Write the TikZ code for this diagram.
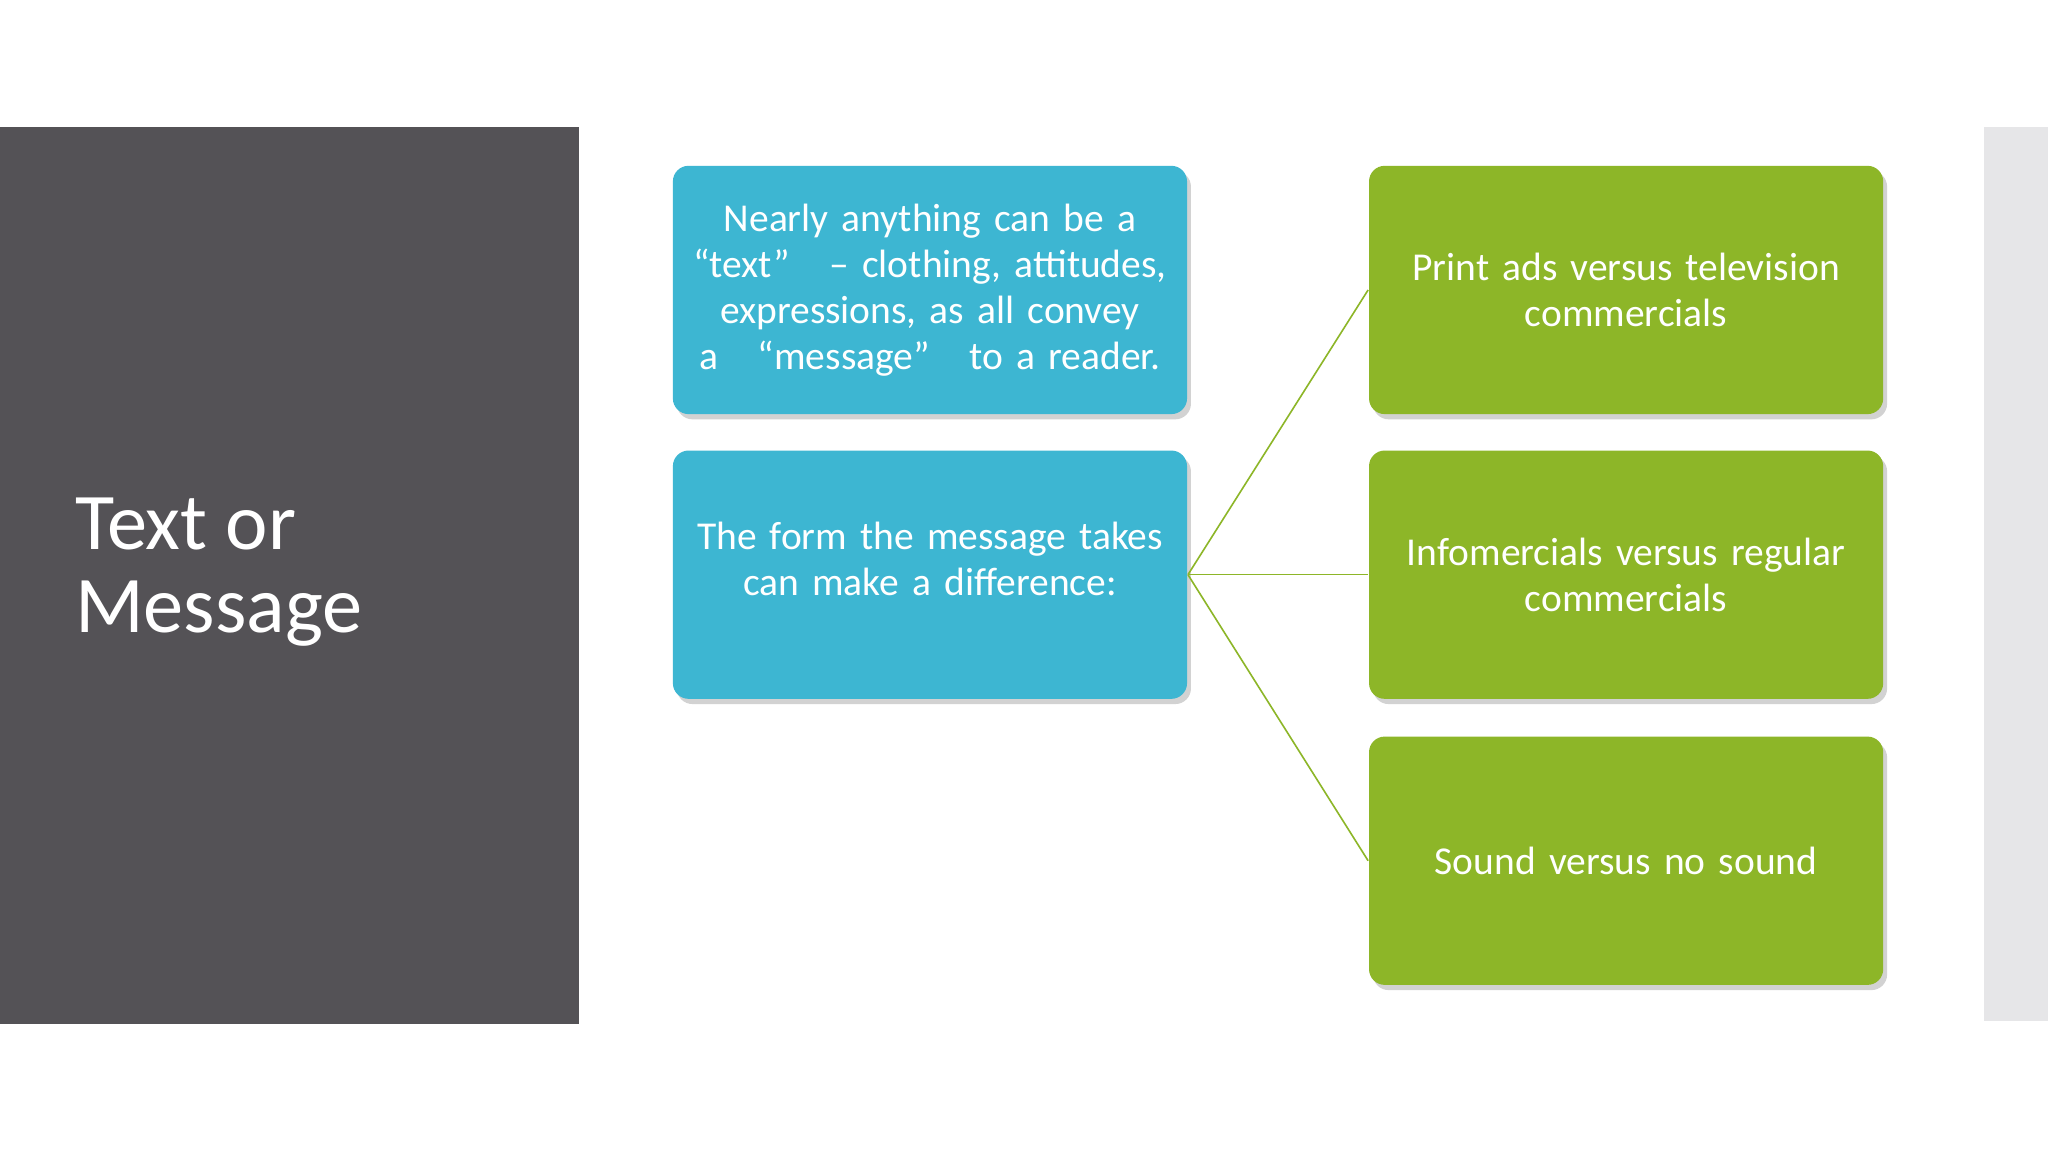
\documentclass[tikz,border=0pt]{standalone}
\usepackage{fontspec}
\setmainfont{Carlito}
\usetikzlibrary{shadows}
\definecolor{panel}{HTML}{545256}
\definecolor{strip}{HTML}{E6E6E8}
\definecolor{bbox}{HTML}{3DB6D2}
\definecolor{gbox}{HTML}{8DB628}
\begin{document}
\begin{tikzpicture}[x=0.01cm,y=-0.01cm,
  box/.style={draw=none,rounded corners=1.2mm,minimum width=3.81cm,minimum height=1.9cm,text width=3.7cm,align=center,text=white,font=\fontsize{8.6}{10}\selectfont,drop shadow={shadow xshift=0.3mm,shadow yshift=-0.4mm,opacity=0.35}},
  bb/.style={box,fill=bbox},
  gb/.style={box,fill=gbox},
  link/.style={draw=gbox,line width=0.35pt}]
\useasboundingbox (0,0) rectangle (1568,882);
\fill[white] (0,0) rectangle (1568,882);
\fill[panel] (0,97) rectangle (443,784);
\fill[strip] (1519,97) rectangle (1568,782);
\node[anchor=west,text=white,align=left,font=\fontsize{17.5}{18}\selectfont] (t) at (45,438) {Text or\\Message};
\node[bb] (b1) at (712,222) {Nearly anything can be a ``text''\quad – clothing, attitudes, expressions, as all convey a\quad ``message''\quad to a reader.};
\node[bb] (b2) at (712,440) {\raisebox{0.45cm}{\parbox{3.7cm}{\centering The form the message takes can make a difference:}}};
\node[gb] (g1) at (1245,222) {\raisebox{0.1cm}{\parbox{3.7cm}{\centering Print ads versus television commercials}}};
\node[gb] (g2) at (1245,440) {\raisebox{0.1cm}{\parbox{3.7cm}{\centering Infomercials versus regular commercials}}};
\node[gb] (g3) at (1245,659) {Sound versus no sound};
\draw[link] (b2.east) -- (g1.west);
\draw[link] (b2.east) -- (g2.west);
\draw[link] (b2.east) -- (g3.west);
\end{tikzpicture}
\end{document}
